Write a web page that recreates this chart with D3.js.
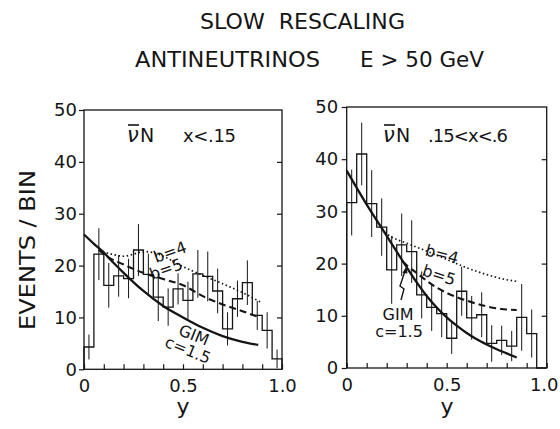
<!DOCTYPE html>
<html><head><meta charset="utf-8">
<script src="https://cdn.jsdelivr.net/npm/d3@7"></script>
<style>
body{margin:0;background:#fff}
svg{display:block}
text{font-family:"DejaVu Sans",sans-serif;fill:#151515}
</style>
</head><body>
<svg id="c" width="560" height="429"></svg>
<script>
// ---- data ----
const binStarts = [0,0.05,0.10,0.15,0.20,0.25,0.30,0.35,0.40,0.45,0.50,0.55,0.60,0.65,0.70,0.75,0.80,0.85,0.90,0.95];
const binWidth = 0.05;

const leftCounts = [4.3,22.2,16.2,18.0,17.5,23.0,18.3,13.9,12.0,15.5,13.3,18.4,17.9,15.1,7.8,13.6,16.7,10.4,7.5,2.0];
const leftErrors = [2.4,5.0,4.3,4.0,3.8,5.0,4.0,4.6,3.6,3.0,3.6,4.6,4.8,4.3,3.2,3.5,4.3,2.8,3.5,1.8];

const rightCounts = [31.7,41.0,31.5,27.0,18.8,23.6,22.3,14.0,11.6,10.4,5.7,14.7,9.6,10.2,4.7,5.3,4.2,9.7,6.6,0];
const rightErrors = [6.3,6.0,6.4,5.5,6.5,6.0,6.0,4.5,4.5,4.5,3.0,4.7,4.2,4.3,3.5,2.8,2.9,6.4,4.6,0];

const leftGimX = [0,0.05,0.10,0.15,0.20,0.30,0.40,0.50,0.60,0.70,0.80,0.88];
const leftGimY = [26,24.2,22.5,20.5,18.6,15.1,12.2,10.0,8.0,6.4,5.3,4.7];
const leftB5X = [0.075,0.10,0.20,0.30,0.40,0.50,0.60,0.70,0.80,0.88];
const leftB5Y = [23,22.2,20.2,18.6,17.4,16.2,14.1,12.5,11.2,10.1];
const leftB4X = [0.075,0.15,0.20,0.25,0.30,0.35,0.40,0.50,0.60,0.70,0.80,0.89];
const leftB4Y = [23,22.1,21.8,22.2,22.7,22.5,21.8,19.8,18.1,16.5,14.8,13.0];

const rightGimX = [0,0.05,0.10,0.15,0.20,0.25,0.30,0.35,0.40,0.45,0.50,0.55,0.60,0.65,0.70,0.75,0.80,0.85];
const rightGimY = [37.8,34.5,31.3,28.3,25.3,22.3,19.3,16.4,13.8,11.6,9.7,8.1,6.7,5.5,4.5,3.6,2.8,2.0];
const rightB5X = [0.28,0.30,0.35,0.40,0.45,0.50,0.60,0.70,0.80,0.85];
const rightB5Y = [20.4,19.7,18.2,16.7,15.4,14.4,12.9,11.8,11.2,11.1];
const rightB4X = [0.19,0.22,0.30,0.40,0.50,0.60,0.70,0.80,0.85];
const rightB4Y = [26.0,25.2,23.9,22.4,20.8,19.2,17.9,16.9,16.6];

const yTicks = [0,10,20,30,40,50];
const innerYTicks = [10,20,30,40];
const xTicks = [0,0.1,0.2,0.3,0.4,0.5,0.6,0.7,0.8,0.9,1.0];
const xTickLabels = {0:"0",0.5:"0.5",1:"1.0"};

const titleLine1 = "SLOW  RESCALING";
const titleLine2a = "ANTINEUTRINOS";
const titleLine2b = "E > 50 GeV";
const yLabel = "EVENTS / BIN";
const xLabel = "y";
const leftCut = "x<.15";
const rightCut = ".15<x<.6";

// ---- drawing ----
const svg = d3.select("#c");
const ink = "#151515";

function zip(xs, ys){ return xs.map((x,i)=>[x, ys[i]]); }

const panels = [
  {x0:84, x1:282, y0:369.3, y1:110, counts:leftCounts, errs:leftErrors,
   gim:zip(leftGimX,leftGimY), b5:zip(leftB5X,leftB5Y), b4:zip(leftB4X,leftB4Y),
   cut:leftCut, nuX:127, cutX:183, cutLen:53, padL:2, lastShift:0},
  {x0:346.7, x1:546.7, y0:368, y1:107, counts:rightCounts, errs:rightErrors,
   gim:zip(rightGimX,rightGimY), b5:zip(rightB5X,rightB5Y), b4:zip(rightB4X,rightB4Y),
   cut:rightCut, nuX:383, cutX:428, cutLen:80, padL:3.5, lastShift:-3}
];

panels.forEach((p, pi) => {
  const x = d3.scaleLinear().domain([0,1]).range([p.x0, p.x1]);
  const y = d3.scaleLinear().domain([0,50]).range([p.y0, p.y1]);
  const g = svg.append("g");

  // frame
  g.append("rect").attr("x", x(0)).attr("y", y(50))
    .attr("width", x(1)-x(0)).attr("height", y(0)-y(50))
    .attr("fill","none").attr("stroke",ink).attr("stroke-width",1.3);

  // left axis (outward ticks + labels)
  const ax = g.append("g").attr("transform",`translate(${x(0)},0)`)
    .call(d3.axisLeft(y).tickValues(yTicks).tickSize(5).tickPadding(p.padL).tickFormat(d3.format("d")));
  ax.select(".domain").remove();
  ax.selectAll("line").attr("stroke",ink).attr("stroke-width",1.2);
  ax.selectAll("text").attr("font-size",18).attr("fill",ink).attr("font-family",null);

  // right side inward ticks
  const ar = g.append("g").attr("transform",`translate(${x(1)},0)`)
    .call(d3.axisLeft(y).tickValues(innerYTicks).tickSize(5).tickFormat(""));
  ar.select(".domain").remove();
  ar.selectAll("line").attr("stroke",ink).attr("stroke-width",1.2);

  // bottom axis inward ticks
  const ab = g.append("g").attr("transform",`translate(0,${y(0)})`)
    .call(d3.axisBottom(x).tickValues(xTicks).tickSizeInner(-5).tickSizeOuter(0).tickPadding(10)
      .tickFormat(d => xTickLabels[d] !== undefined ? xTickLabels[d] : ""));
  ab.select(".domain").remove();
  ab.selectAll("line").attr("stroke",ink).attr("stroke-width",1.2);
  ab.selectAll("text").attr("font-size",18).attr("fill",ink).attr("font-family",null)
    .attr("dx", d => d === 1 ? p.lastShift : 0);

  // histogram as step path
  const pts = [[0,0]];
  binStarts.forEach((b,i)=>{ pts.push([b,p.counts[i]]); pts.push([b+binWidth,p.counts[i]]); });
  pts.push([binStarts[binStarts.length-1]+binWidth,0]);
  g.append("path").attr("d", d3.line().x(d=>x(d[0])).y(d=>y(d[1]))(pts))
    .attr("fill","none").attr("stroke",ink).attr("stroke-width",1.3);

  // error bars
  g.selectAll(".eb").data(binStarts.map((b,i)=>({c:b+binWidth/2, v:p.counts[i], e:p.errs[i]})).filter(d=>d.e>0))
    .enter().append("line")
    .attr("x1",d=>x(d.c)).attr("x2",d=>x(d.c))
    .attr("y1",d=>y(Math.max(0,d.v-d.e))).attr("y2",d=>y(d.v+d.e))
    .attr("stroke",ink).attr("stroke-width",1);

  // curves
  const cl = d3.line().x(d=>x(d[0])).y(d=>y(d[1])).curve(d3.curveMonotoneX);
  g.append("path").attr("d",cl(p.b4)).attr("fill","none").attr("stroke",ink)
    .attr("stroke-width",1.7).attr("stroke-dasharray","1.5,2.6");
  g.append("path").attr("d",cl(p.b5)).attr("fill","none").attr("stroke",ink)
    .attr("stroke-width",2.1).attr("stroke-dasharray","7,4");
  g.append("path").attr("d",cl(p.gim)).attr("fill","none").attr("stroke",ink)
    .attr("stroke-width",2.3);

  // panel label
  const nu = g.append("text").attr("x",p.nuX).attr("y",142).attr("font-size",21)
    .attr("font-style","italic").attr("font-family","DejaVu Serif, serif").text("ν");
  const bb = nu.node().getBBox();
  g.append("line").attr("x1",bb.x+1).attr("x2",bb.x+bb.width).attr("y1",bb.y+2).attr("y2",bb.y+2)
    .attr("stroke",ink).attr("stroke-width",1.6);
  g.append("text").attr("x",bb.x+bb.width+1).attr("y",142).attr("font-size",19).text("N");
  g.append("text").attr("x",p.cutX).attr("y",142).attr("font-size",18)
    .attr("textLength",p.cutLen).attr("lengthAdjust","spacing").text(p.cut);
});

// curve labels
const lab = (t,cx,cy,rot,fs)=> svg.append("text").attr("transform",`translate(${cx},${cy}) rotate(${rot})`)
  .attr("text-anchor","middle").attr("dy","0.35em").attr("font-size",fs).text(t);
lab("b=4",170,252,-20,16);
lab("b=5",166,269,-20,16);
lab("GIM",194,335,22,16);
lab("c=1.5",188,350,22,16);
lab("b=4",442,254,15,16);
lab("b=5",439,275,18,16);
lab("GIM",398,314,0,16);
lab("c=1.5",399,331,0,16);

// lightning arrow (right panel)
svg.append("path").attr("d","M401,300 L404,289 L400,286 L405,271")
  .attr("fill","none").attr("stroke",ink).attr("stroke-width",1.4);
svg.append("path").attr("d","M406.5,266 L402.5,273 L407.5,273.5 Z").attr("fill",ink);

// titles
svg.append("text").attr("x",200).attr("y",29).attr("font-size",21)
  .attr("textLength",205).attr("lengthAdjust","spacingAndGlyphs")
  .style("white-space","pre").text(titleLine1);
svg.append("text").attr("x",135).attr("y",67).attr("font-size",21)
  .attr("textLength",185).attr("lengthAdjust","spacingAndGlyphs").text(titleLine2a);
svg.append("text").attr("x",360).attr("y",67).attr("font-size",21)
  .attr("textLength",124).attr("lengthAdjust","spacingAndGlyphs").text(titleLine2b);

// axis labels
svg.append("text").attr("transform","translate(35,250) rotate(-90)").attr("text-anchor","middle")
  .attr("font-size",21).attr("textLength",160).attr("lengthAdjust","spacingAndGlyphs").text(yLabel);
svg.append("text").attr("x",183).attr("y",414).attr("text-anchor","middle").attr("font-size",22).text(xLabel);
svg.append("text").attr("x",447).attr("y",414).attr("text-anchor","middle").attr("font-size",22).text(xLabel);
</script>
</body></html>
